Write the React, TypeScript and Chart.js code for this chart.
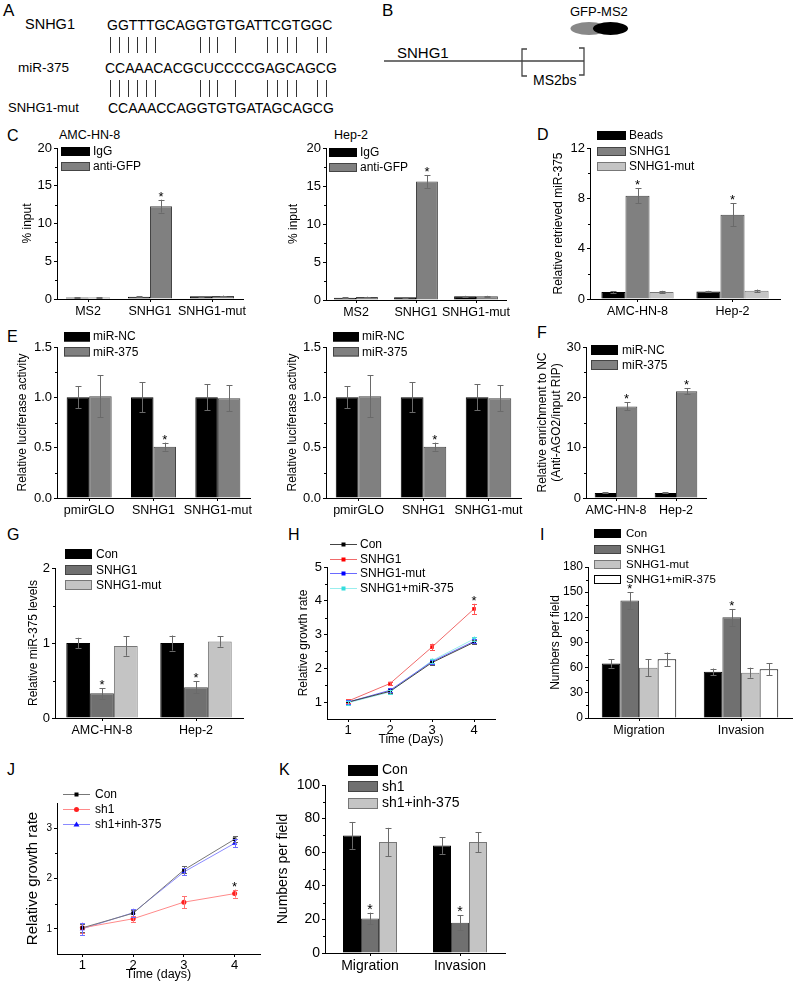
import React, { useEffect, useRef } from 'react';
import { Chart, registerables } from 'chart.js';

Chart.register(...registerables);

const FONT = "'Liberation Sans', Arial, Helvetica, sans-serif";
Chart.defaults.font.family = FONT;
Chart.defaults.color = '#000';

// ---------- Panel A ----------
const seqLabels = ['SNHG1', 'miR-375', 'SNHG1-mut'];
const seqTexts = ['GGTTTGCAGGTGTGATTCGTGGC', 'CCAAACACGCUCCCCGAGCAGCG', 'CCAAACCAGGTGTGATAGCAGCG'];

// ---------- Panel C ----------
const cCategories = ['MS2', 'SNHG1', 'SNHG1-mut'];
const cSeriesLabels = ['IgG', 'anti-GFP'];
const cAmcIgG = [0.2, 0.3, 0.35];
const cAmcIgGErr = [0.03, 0.04, 0.04];
const cAmcAntiGFP = [0.2, 12.3, 0.4];
const cAmcAntiGFPErr = [0.03, 0.85, 0.05];
const cHepIgG = [0.3, 0.35, 0.5];
const cHepIgGErr = [0.03, 0.04, 0.05];
const cHepAntiGFP = [0.4, 15.6, 0.5];
const cHepAntiGFPErr = [0.03, 0.85, 0.05];
const cAntiGFPStars = [false, true, false];
const cYTicks = [0, 5, 10, 15, 20];

// ---------- Panel D ----------
const dCategories = ['AMC-HN-8', 'Hep-2'];
const dSeriesLabels = ['Beads', 'SNHG1', 'SNHG1-mut'];
const dBeads = [0.55, 0.6];
const dBeadsErr = [0.05, 0.05];
const dSnhg1 = [8.2, 6.7];
const dSnhg1Err = [0.6, 0.9];
const dMut = [0.55, 0.65];
const dMutErr = [0.1, 0.1];
const dSnhg1Stars = [true, true];
const dYTicks = [0, 4, 8, 12];

// ---------- Panel E ----------
const eCategories = ['pmirGLO', 'SNHG1', 'SNHG1-mut'];
const eSeriesLabels = ['miR-NC', 'miR-375'];
const eMirNC = [1.0, 1.0, 1.0];
const eMirNCErr = [0.11, 0.15, 0.13];
const eMir375 = [1.01, 0.51, 0.99];
const eMir375Err = [0.21, 0.04, 0.13];
const eMir375Stars = [false, true, false];
const eYTicks = [0, 0.5, 1.0, 1.5];

// ---------- Panel F ----------
const fCategories = ['AMC-HN-8', 'Hep-2'];
const fSeriesLabels = ['miR-NC', 'miR-375'];
const fMirNC = [1.0, 1.0];
const fMirNCErr = [0.1, 0.1];
const fMir375 = [18.2, 21.2];
const fMir375Err = [0.8, 0.6];
const fMir375Stars = [true, true];
const fYTicks = [0, 10, 20, 30];

// ---------- Panel G ----------
const gCategories = ['AMC-HN-8', 'Hep-2'];
const gSeriesLabels = ['Con', 'SNHG1', 'SNHG1-mut'];
const gCon = [1.0, 1.0];
const gConErr = [0.07, 0.1];
const gSnhg1 = [0.33, 0.41];
const gSnhg1Err = [0.07, 0.08];
const gMut = [0.96, 1.02];
const gMutErr = [0.13, 0.07];
const gSnhg1Stars = [true, true];
const gYTicks = [0, 1, 2];

// ---------- Panel H ----------
const hDays = [1, 2, 3, 4];
const hSeriesLabels = ['Con', 'SNHG1', 'SNHG1-mut', 'SNHG1+miR-375'];
const hCon = [1.0, 1.32, 2.17, 2.77];
const hConErr = [0.05, 0.05, 0.08, 0.06];
const hSnhg1 = [1.03, 1.55, 2.63, 3.76];
const hSnhg1Err = [0.05, 0.05, 0.1, 0.15];
const hMut = [1.0, 1.35, 2.2, 2.8];
const hMutErr = [0.05, 0.06, 0.06, 0.06];
const hMir = [0.98, 1.3, 2.23, 2.87];
const hMirErr = [0.06, 0.05, 0.06, 0.07];
const hSnhg1Stars = [false, false, false, true];
const hYTicks = [1, 2, 3, 4, 5];

// ---------- Panel I ----------
const iCategories = ['Migration', 'Invasion'];
const iSeriesLabels = ['Con', 'SNHG1', 'SNHG1-mut', 'SNHG1+miR-375'];
const iCon = [65, 55];
const iConErr = [5, 4];
const iSnhg1 = [140, 120];
const iSnhg1Err = [10, 10];
const iMut = [60, 54];
const iMutErr = [10, 6];
const iMir = [70, 58];
const iMirErr = [8, 7];
const iSnhg1Stars = [true, true];
const iYTicks = [0, 30, 60, 90, 120, 150, 180];

// ---------- Panel J ----------
const jDays = [1, 2, 3, 4];
const jSeriesLabels = ['Con', 'sh1', 'sh1+inh-375'];
const jCon = [1.02, 1.31, 2.17, 2.78];
const jConErr = [0.08, 0.06, 0.07, 0.06];
const jSh1 = [1.02, 1.2, 1.53, 1.7];
const jSh1Err = [0.1, 0.06, 0.12, 0.08];
const jInh = [1.0, 1.32, 2.13, 2.7];
const jInhErr = [0.12, 0.08, 0.07, 0.08];
const jSh1Stars = [false, false, false, true];
const jYTicks = [1, 2, 3];

// ---------- Panel K ----------
const kCategories = ['Migration', 'Invasion'];
const kSeriesLabels = ['Con', 'sh1', 'sh1+inh-375'];
const kCon = [70, 64];
const kConErr = [8, 5];
const kSh1 = [20.5, 18];
const kSh1Err = [3.5, 4.5];
const kInh = [66, 66];
const kInhErr = [8.5, 6];
const kSh1Stars = [true, true];
const kYTicks = [0, 20, 40, 60, 80, 100];

const dayTicks = [1, 2, 3, 4];

function T({ x, y, s, children, bold }: any) {
  return (
    <div
      style={{
        position: 'absolute',
        left: x,
        top: y - s * 0.6,
        fontSize: s,
        lineHeight: `${s * 1.2}px`,
        whiteSpace: 'nowrap',
        fontFamily: FONT,
        color: '#000',
        fontWeight: bold ? 'bold' : 'normal',
      }}
    >
      {children}
    </div>
  );
}

function ChartPanel(p: any) {
  const ref = useRef<HTMLCanvasElement | null>(null);
  const yTitleSize = p.yTitleSize ?? 12;
  const left = Math.round(p.titleX - (yTitleSize * 1.2) / 2);
  const yAxisW = p.plot.l - left;
  const top = p.plot.t - p.padTop;
  const width = Math.round(p.plot.r - left + p.padRight);
  const height = Math.round(p.plot.b - top + p.xAxisH);

  useEffect(() => {
    const isBar = p.kind === 'bar';
    const datasets = p.series.map((s: any) =>
      isBar
        ? {
            label: s.label,
            data: s.values,
            backgroundColor: s.fill,
            borderColor: s.stroke,
            borderWidth: 1,
            barPercentage: 1,
            categoryPercentage: p.barFrac,
            errors: s.errors,
            stars: s.stars,
            errColor: s.errColor || '#6a6a6a',
          }
        : {
            label: s.label,
            data: p.xs.map((x: number, i: number) => ({ x, y: s.values[i] })),
            borderColor: s.stroke,
            borderWidth: 1,
            pointStyle: s.point,
            pointRadius: s.pointRadius ?? 2.5,
            pointBackgroundColor: s.fill,
            pointBorderColor: s.fill,
            pointBorderWidth: 0,
            tension: 0,
            fill: false,
            errors: s.errors,
            stars: s.stars,
            errColor: s.errColor || s.fill,
          }
    );

    const L = p.legend;
    const deco = {
      id: 'deco',
      afterDatasetsDraw(chart: any) {
        const ctx = chart.ctx;
        const ys = chart.scales.y;
        const area = chart.chartArea;
        ctx.save();
        // minor ticks on y axis
        ctx.strokeStyle = '#000';
        ctx.lineWidth = 1;
        for (let i = 0; i < p.yTicks.length - 1; i++) {
          const v = (p.yTicks[i] + p.yTicks[i + 1]) / 2;
          const y = Math.round(ys.getPixelForValue(v)) + 0.5;
          ctx.beginPath();
          ctx.moveTo(area.left, y);
          ctx.lineTo(area.left - 2, y);
          ctx.stroke();
        }
        // error bars and stars
        chart.data.datasets.forEach((ds: any, i: number) => {
          if (!ds.errors) return;
          const meta = chart.getDatasetMeta(i);
          meta.data.forEach((el: any, j: number) => {
            const v = isBar ? ds.data[j] : ds.data[j].y;
            const e = ds.errors[j];
            const x = Math.round(el.x) + 0.5;
            const yT = ys.getPixelForValue(v + e);
            const yB = ys.getPixelForValue(v - e);
            const cap = isBar ? 3 : 2.5;
            ctx.strokeStyle = ds.errColor;
            ctx.lineWidth = 1;
            ctx.beginPath();
            ctx.moveTo(x, yT);
            ctx.lineTo(x, yB);
            ctx.moveTo(x - cap, Math.round(yT) + 0.5);
            ctx.lineTo(x + cap, Math.round(yT) + 0.5);
            ctx.moveTo(x - cap, Math.round(yB) + 0.5);
            ctx.lineTo(x + cap, Math.round(yB) + 0.5);
            ctx.stroke();
            if (ds.stars && ds.stars[j]) {
              ctx.fillStyle = '#000';
              ctx.font = `${p.starSize ?? 13}px ${FONT}`;
              ctx.textAlign = 'center';
              ctx.textBaseline = 'alphabetic';
              ctx.fillText('*', el.x, yT + (p.starDy ?? 1));
            }
          });
        });
        ctx.restore();
      },
      afterDraw(chart: any) {
        const ctx = chart.ctx;
        const area = chart.chartArea;
        ctx.save();
        ctx.font = `${L.size}px ${FONT}`;
        ctx.textBaseline = 'middle';
        ctx.textAlign = 'left';
        chart.data.datasets.forEach((ds: any, i: number) => {
          const x0 = Math.round(area.left + L.dx);
          const yc = area.top + L.rows[i];
          if (isBar) {
            const y0 = Math.round(yc - L.h / 2);
            ctx.fillStyle = ds.backgroundColor;
            ctx.fillRect(x0, y0, L.w, L.h);
            ctx.strokeStyle = ds.borderColor;
            ctx.lineWidth = 1;
            ctx.strokeRect(x0 + 0.5, y0 + 0.5, L.w - 1, L.h - 1);
          } else {
            const yl = Math.round(yc) + 0.5;
            ctx.strokeStyle = ds.borderColor;
            ctx.lineWidth = 1;
            ctx.beginPath();
            ctx.moveTo(x0, yl);
            ctx.lineTo(x0 + L.w, yl);
            ctx.stroke();
            const cx = x0 + L.w / 2;
            const r = ds.pointRadius;
            ctx.fillStyle = ds.pointBackgroundColor;
            if (ds.pointStyle === 'circle') {
              ctx.beginPath();
              ctx.arc(cx, yl, r, 0, Math.PI * 2);
              ctx.fill();
            } else if (ds.pointStyle === 'triangle') {
              ctx.beginPath();
              ctx.moveTo(cx, yl - r);
              ctx.lineTo(cx + r, yl + r * 0.7);
              ctx.lineTo(cx - r, yl + r * 0.7);
              ctx.closePath();
              ctx.fill();
            } else {
              ctx.fillRect(cx - r * 0.8, yl - r * 0.8, r * 1.6, r * 1.6);
            }
          }
          ctx.fillStyle = '#000';
          ctx.fillText(ds.label, x0 + L.w + L.gap, yc + 0.5);
        });
        ctx.restore();
      },
    };

    const axisGrid = {
      display: true,
      drawOnChartArea: false,
      drawTicks: true,
      tickLength: 3,
      color: '#000',
      lineWidth: 1,
    };

    const yScale: any = {
      type: 'linear',
      min: p.yMin,
      max: p.yMax,
      afterBuildTicks: (s: any) => {
        s.ticks = p.yTicks.map((v: number) => ({ value: v }));
      },
      afterFit: (s: any) => {
        s.width = yAxisW;
      },
      ticks: {
        font: { size: p.yFont ?? 13 },
        padding: 2,
        color: '#000',
        callback: (v: any) => (p.yDigits != null ? Number(v).toFixed(p.yDigits) : String(v)),
      },
      grid: axisGrid,
      border: { display: true, color: '#000', width: 1 },
      title: {
        display: true,
        text: p.yTitle,
        font: { size: yTitleSize },
        padding: 0,
        color: '#000',
      },
    };

    const xScale: any = isBar
      ? {
          type: 'category',
          offset: true,
          afterFit: (s: any) => {
            s.height = p.xAxisH;
          },
          ticks: { font: { size: p.xFont ?? 12.5 }, padding: 2, maxRotation: 0, minRotation: 0, autoSkip: false, color: '#000' },
          grid: { ...axisGrid, offset: false },
          border: { display: true, color: '#000', width: 1 },
        }
      : {
          type: 'linear',
          min: p.xMin,
          max: p.xMax,
          afterBuildTicks: (s: any) => {
            s.ticks = p.xTicks.map((v: number) => ({ value: v }));
          },
          afterFit: (s: any) => {
            s.height = p.xAxisH;
          },
          ticks: { font: { size: p.xFont ?? 13 }, padding: p.xPad ?? 1, maxRotation: 0, color: '#000' },
          grid: axisGrid,
          border: { display: true, color: '#000', width: 1 },
          title: {
            display: true,
            text: p.xTitle,
            font: { size: p.xTitleSize ?? 12 },
            padding: 0,
            color: '#000',
          },
        };

    const cfg: any = {
      type: isBar ? 'bar' : 'line',
      data: isBar ? { labels: p.categories, datasets } : { datasets },
      options: {
        responsive: false,
        maintainAspectRatio: false,
        animation: false,
        events: [],
        layout: { padding: { left: 0, top: p.padTop, right: p.padRight, bottom: 0 } },
        plugins: { legend: { display: false }, tooltip: { enabled: false }, title: { display: false } },
        scales: { x: xScale, y: yScale },
      },
      plugins: [deco],
    };
    const chart = new Chart(ref.current as HTMLCanvasElement, cfg);
    return () => chart.destroy();
  }, []);

  return (
    <canvas
      ref={ref}
      width={width}
      height={height}
      style={{ position: 'absolute', left, top, width, height, display: 'block' }}
    />
  );
}

function PanelA() {
  const pairX = [110, 119, 128, 137, 146, 155, 200, 209, 217, 235, 267, 277, 287, 296, 317, 326];
  return (
    <>
      <T x={3} y={11.5} s={17}>A</T>
      <T x={25} y={25} s={14.5}>{seqLabels[0]}</T>
      <T x={107} y={25} s={14}>{seqTexts[0]}</T>
      {pairX.map((x) => (
        <div key={'p1' + x} style={{ position: 'absolute', left: x, top: 37, width: 1, height: 16, background: '#333' }} />
      ))}
      <T x={18} y={68} s={13.5}>{seqLabels[1]}</T>
      <T x={105} y={68} s={14}>{seqTexts[1]}</T>
      {pairX.map((x) => (
        <div key={'p2' + x} style={{ position: 'absolute', left: x, top: 80, width: 1, height: 17, background: '#333' }} />
      ))}
      <T x={8} y={108} s={13}>{seqLabels[2]}</T>
      <T x={108} y={108} s={14}>{seqTexts[2]}</T>
    </>
  );
}

function PanelB() {
  return (
    <>
      <svg style={{ position: 'absolute', left: 0, top: 0 }} width={800} height={120}>
        <line x1={384} y1={61} x2={584} y2={61} stroke="#444" strokeWidth={1.3} />
        <polyline points="527,49 522,49 522,76 527,76" fill="none" stroke="#444" strokeWidth={1.3} />
        <polyline points="579,48 584,48 584,75 579,75" fill="none" stroke="#444" strokeWidth={1.3} />
        <ellipse cx={589} cy={28.5} rx={18.5} ry={6.5} fill="#888" />
        <ellipse cx={610.5} cy={28.5} rx={17.5} ry={6.5} fill="#000" />
      </svg>
      <T x={382} y={11} s={17}>B</T>
      <T x={570} y={12} s={13}>GFP-MS2</T>
      <T x={397} y={53} s={15}>SNHG1</T>
      <T x={533} y={80} s={14}>MS2bs</T>
    </>
  );
}

const BLACK = '#000000';
const MID = '#808080';
const DARK = '#707070';
const LIGHT = '#c4c4c4';

export default function App() {
  return (
    <div
      style={{
        position: 'absolute',
        left: 0,
        top: 0,
        width: 800,
        height: 990,
        background: '#fff',
        overflow: 'hidden',
        fontFamily: FONT,
        color: '#000',
      }}
    >
      <PanelA />
      <PanelB />

      {/* Panel C */}
      <T x={7} y={136} s={16}>C</T>
      <T x={59} y={135} s={12.5}>AMC-HN-8</T>
      <ChartPanel
        kind="bar"
        plot={{ l: 57, t: 148, r: 243, b: 299 }}
        titleX={27}
        padTop={24}
        padRight={14}
        xAxisH={22}
        categories={cCategories}
        yMin={0}
        yMax={20}
        yTicks={cYTicks}
        yTitle="% input"
        barFrac={0.71}
        series={[
          { label: cSeriesLabels[0], values: cAmcIgG, errors: cAmcIgGErr, fill: BLACK, stroke: BLACK },
          { label: cSeriesLabels[1], values: cAmcAntiGFP, errors: cAmcAntiGFPErr, stars: cAntiGFPStars, fill: MID, stroke: '#444' },
        ]}
        legend={{ dx: 4, rows: [3.5, 18.5], w: 29, h: 9, gap: 3, size: 12 }}
      />
      <T x={334} y={135} s={12.5}>Hep-2</T>
      <ChartPanel
        kind="bar"
        plot={{ l: 326, t: 148, r: 506, b: 300 }}
        titleX={293}
        padTop={24}
        padRight={14}
        xAxisH={22}
        categories={cCategories}
        yMin={0}
        yMax={20}
        yTicks={cYTicks}
        yTitle="% input"
        barFrac={0.73}
        series={[
          { label: cSeriesLabels[0], values: cHepIgG, errors: cHepIgGErr, fill: BLACK, stroke: BLACK },
          { label: cSeriesLabels[1], values: cHepAntiGFP, errors: cHepAntiGFPErr, stars: cAntiGFPStars, fill: MID, stroke: '#444' },
        ]}
        legend={{ dx: 3, rows: [4, 19], w: 28, h: 9, gap: 3, size: 12 }}
      />

      {/* Panel D */}
      <T x={537} y={135} s={16}>D</T>
      <ChartPanel
        kind="bar"
        plot={{ l: 590, t: 148, r: 780, b: 299 }}
        titleX={558}
        padTop={24}
        padRight={14}
        xAxisH={22}
        categories={dCategories}
        yMin={0}
        yMax={12}
        yTicks={dYTicks}
        yTitle="Relative retrieved miR-375"
        barFrac={0.76}
        series={[
          { label: dSeriesLabels[0], values: dBeads, errors: dBeadsErr, fill: BLACK, stroke: BLACK },
          { label: dSeriesLabels[1], values: dSnhg1, errors: dSnhg1Err, stars: dSnhg1Stars, fill: MID, stroke: '#444' },
          { label: dSeriesLabels[2], values: dMut, errors: dMutErr, fill: LIGHT, stroke: '#777' },
        ]}
        legend={{ dx: 7, rows: [-12.5, 3.5, 18.5], w: 29, h: 9, gap: 3, size: 12 }}
      />

      {/* Panel E */}
      <T x={7} y={337} s={16}>E</T>
      <ChartPanel
        kind="bar"
        plot={{ l: 57, t: 347, r: 250, b: 498 }}
        titleX={22}
        padTop={22}
        padRight={14}
        xAxisH={22}
        categories={eCategories}
        yMin={0}
        yMax={1.5}
        yTicks={eYTicks}
        yDigits={1}
        yTitle="Relative luciferase activity"
        barFrac={0.7}
        series={[
          { label: eSeriesLabels[0], values: eMirNC, errors: eMirNCErr, fill: BLACK, stroke: BLACK },
          { label: eSeriesLabels[1], values: eMir375, errors: eMir375Err, stars: eMir375Stars, fill: MID, stroke: '#444' },
        ]}
        legend={{ dx: 7, rows: [-10.5, 5], w: 26, h: 9.5, gap: 3, size: 12 }}
      />
      <ChartPanel
        kind="bar"
        plot={{ l: 326, t: 347, r: 521, b: 498 }}
        titleX={292}
        padTop={22}
        padRight={14}
        xAxisH={22}
        categories={eCategories}
        yMin={0}
        yMax={1.5}
        yTicks={eYTicks}
        yDigits={1}
        yTitle="Relative luciferase activity"
        barFrac={0.7}
        series={[
          { label: eSeriesLabels[0], values: eMirNC, errors: eMirNCErr, fill: BLACK, stroke: BLACK },
          { label: eSeriesLabels[1], values: eMir375, errors: eMir375Err, stars: eMir375Stars, fill: MID, stroke: '#444' },
        ]}
        legend={{ dx: 7, rows: [-10.5, 5], w: 26, h: 9.5, gap: 3, size: 12 }}
      />

      {/* Panel F */}
      <T x={537} y={333} s={16}>F</T>
      <ChartPanel
        kind="bar"
        plot={{ l: 586, t: 347, r: 706, b: 498 }}
        titleX={542}
        padTop={22}
        padRight={14}
        xAxisH={22}
        categories={fCategories}
        yMin={0}
        yMax={30}
        yTicks={fYTicks}
        yTitle={['Relative enrichment to NC', '(Anti-AGO2/input RIP)']}
        barFrac={0.71}
        series={[
          { label: fSeriesLabels[0], values: fMirNC, errors: fMirNCErr, fill: BLACK, stroke: BLACK },
          { label: fSeriesLabels[1], values: fMir375, errors: fMir375Err, stars: fMir375Stars, fill: MID, stroke: '#444' },
        ]}
        legend={{ dx: 5, rows: [3, 18], w: 27, h: 10, gap: 4, size: 12 }}
      />

      {/* Panel G */}
      <T x={7} y={535} s={16}>G</T>
      <ChartPanel
        kind="bar"
        plot={{ l: 55, t: 568, r: 243, b: 718 }}
        titleX={33}
        padTop={24}
        padRight={14}
        xAxisH={22}
        categories={gCategories}
        yMin={0}
        yMax={2}
        yTicks={gYTicks}
        yTitle="Relative miR-375 levels"
        barFrac={0.76}
        series={[
          { label: gSeriesLabels[0], values: gCon, errors: gConErr, fill: BLACK, stroke: BLACK },
          { label: gSeriesLabels[1], values: gSnhg1, errors: gSnhg1Err, stars: gSnhg1Stars, fill: DARK, stroke: '#444' },
          { label: gSeriesLabels[2], values: gMut, errors: gMutErr, fill: LIGHT, stroke: '#777' },
        ]}
        legend={{ dx: 10, rows: [-14, 2, 17], w: 27, h: 10, gap: 4, size: 12 }}
      />

      {/* Panel H */}
      <T x={288} y={535} s={16}>H</T>
      <ChartPanel
        kind="line"
        plot={{ l: 327, t: 567, r: 495, b: 719 }}
        titleX={303}
        padTop={32}
        padRight={14}
        xAxisH={28}
        xs={hDays}
        xMin={0.5}
        xMax={4.5}
        xTicks={dayTicks}
        xTitle="Time (Days)"
        yMin={0.5}
        yMax={5}
        yTicks={hYTicks}
        yTitle="Relative growth rate"
        series={[
          { label: hSeriesLabels[0], values: hCon, errors: hConErr, fill: '#000', stroke: '#444', point: 'rect', errColor: '#555' },
          { label: hSeriesLabels[1], values: hSnhg1, errors: hSnhg1Err, stars: hSnhg1Stars, fill: '#ff0000', stroke: '#f06a6a', point: 'rect', errColor: '#ff5050' },
          { label: hSeriesLabels[2], values: hMut, errors: hMutErr, fill: '#0000ff', stroke: '#6a6aff', point: 'rect', errColor: '#5050ff' },
          { label: hSeriesLabels[3], values: hMir, errors: hMirErr, fill: '#33dddd', stroke: '#99eeee', point: 'rect', errColor: '#55dddd' },
        ]}
        legend={{ dx: 3, rows: [-23, -8, 6, 21], w: 27, h: 0, gap: 3, size: 12 }}
      />

      {/* Panel I */}
      <T x={540} y={535} s={16}>I</T>
      <ChartPanel
        kind="bar"
        plot={{ l: 588, t: 567, r: 792, b: 718 }}
        titleX={555}
        padTop={42}
        padRight={8}
        xAxisH={22}
        categories={iCategories}
        yMin={0}
        yMax={180}
        yTicks={iYTicks}
        yFont={12}
        yTitle="Numbers per field"
        barFrac={0.73}
        series={[
          { label: iSeriesLabels[0], values: iCon, errors: iConErr, fill: BLACK, stroke: BLACK },
          { label: iSeriesLabels[1], values: iSnhg1, errors: iSnhg1Err, stars: iSnhg1Stars, fill: DARK, stroke: '#444' },
          { label: iSeriesLabels[2], values: iMut, errors: iMutErr, fill: LIGHT, stroke: '#777' },
          { label: iSeriesLabels[3], values: iMir, errors: iMirErr, fill: '#ffffff', stroke: '#000' },
        ]}
        legend={{ dx: 6, rows: [-33.5, -17.5, -2.5, 12.5], w: 27, h: 9, gap: 5, size: 11.5 }}
      />

      {/* Panel J */}
      <T x={7} y={770} s={16}>J</T>
      <ChartPanel
        kind="line"
        plot={{ l: 57, t: 803, r: 260, b: 954 }}
        titleX={33}
        yTitleSize={15}
        padTop={20}
        padRight={14}
        xAxisH={28}
        xs={jDays}
        xMin={0.5}
        xMax={4.5}
        xTicks={dayTicks}
        xTitle="Time (days)"
        xTitleSize={12.5}
        yMin={0.5}
        yMax={3.5}
        yTicks={jYTicks}
        yFont={10}
        yTitle="Relative growth rate"
        series={[
          { label: jSeriesLabels[0], values: jCon, errors: jConErr, fill: '#000', stroke: '#777', point: 'rect', errColor: '#666' },
          { label: jSeriesLabels[1], values: jSh1, errors: jSh1Err, stars: jSh1Stars, fill: '#ff2020', stroke: '#ff8a8a', point: 'circle', errColor: '#ff7070' },
          { label: jSeriesLabels[2], values: jInh, errors: jInhErr, fill: '#1010ff', stroke: '#8a8aff', point: 'triangle', pointRadius: 3, errColor: '#7070ff' },
        ]}
        legend={{ dx: 6, rows: [-9, 6, 21], w: 27, h: 0, gap: 5, size: 12 }}
      />

      {/* Panel K */}
      <T x={279} y={770} s={16}>K</T>
      <ChartPanel
        kind="bar"
        plot={{ l: 325, t: 785, r: 505, b: 953 }}
        titleX={283}
        yTitleSize={14}
        padTop={24}
        padRight={14}
        xAxisH={28}
        categories={kCategories}
        yMin={0}
        yMax={100}
        yTicks={kYTicks}
        yFont={14}
        xFont={14}
        starSize={14}
        yTitle="Numbers per field"
        barFrac={0.6}
        series={[
          { label: kSeriesLabels[0], values: kCon, errors: kConErr, fill: BLACK, stroke: BLACK },
          { label: kSeriesLabels[1], values: kSh1, errors: kSh1Err, stars: kSh1Stars, fill: DARK, stroke: '#444' },
          { label: kSeriesLabels[2], values: kInh, errors: kInhErr, fill: LIGHT, stroke: '#777' },
        ]}
        legend={{ dx: 23, rows: [-15, 1.5, 18], w: 30, h: 11, gap: 4, size: 14 }}
      />
    </div>
  );
}
